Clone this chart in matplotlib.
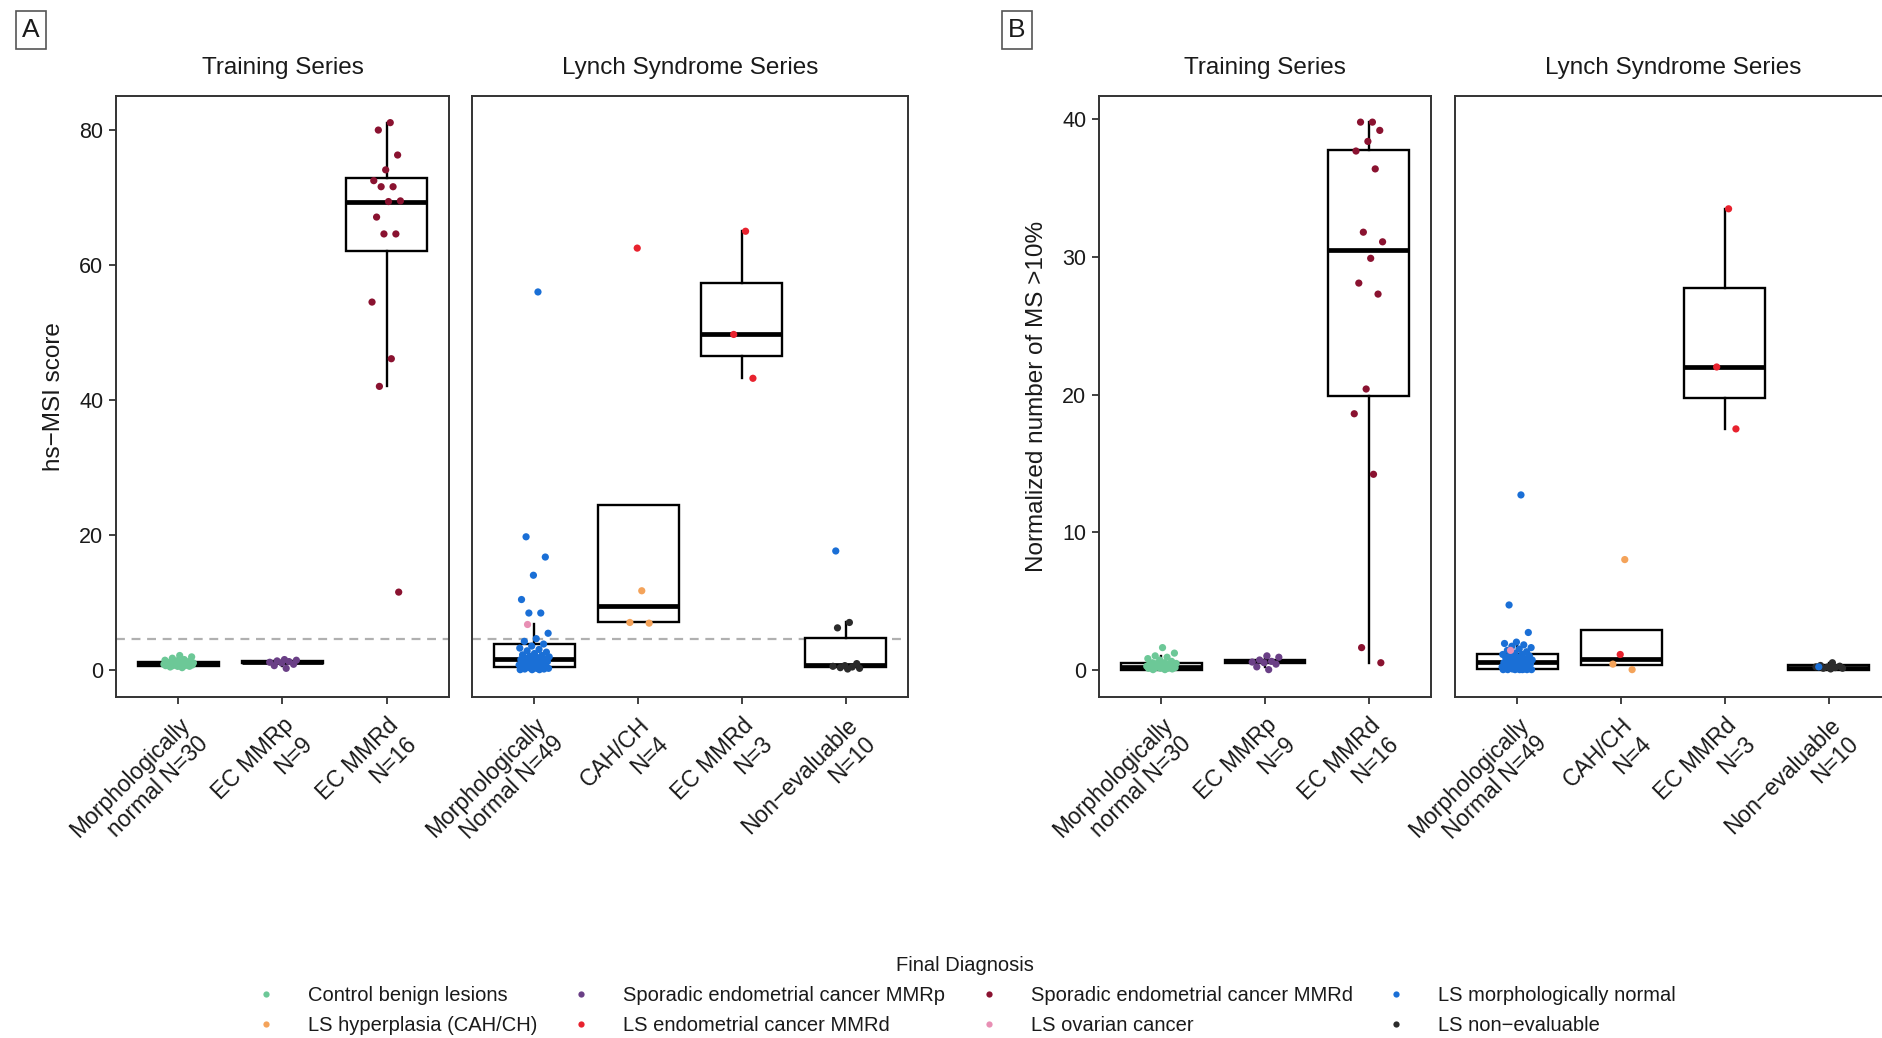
import numpy as np
import matplotlib.pyplot as plt
from matplotlib.lines import Line2D

plt.rcParams['font.family'] = ['Liberation Sans', 'DejaVu Sans']

# diagnoses and colours
dx_names = ["Control benign lesions", "Sporadic endometrial cancer MMRp",
            "Sporadic endometrial cancer MMRd", "LS morphologically normal",
            "LS hyperplasia (CAH/CH)", "LS endometrial cancer MMRd",
            "LS ovarian cancer", "LS non\u2212evaluable"]
dx_colors = ["#6cc897", "#6a3f86", "#8a1230", "#1a6fd6",
             "#f4a35a", "#e8222e", "#e88fb4", "#2b2b2b"]
CTRL, MMRP, MMRD, LSN, LSH, LSEC, LSOV, LSNE = range(8)

train_labels = ["Morphologically\nnormal N=30", "EC MMRp\nN=9", "EC MMRd\nN=16"]
lynch_labels = ["Morphologically\nNormal N=49", "CAH/CH\nN=4", "EC MMRd\nN=3",
                "Non\u2212evaluable\nN=10"]

# ---- panel A: hs-MSI score ----
msi_train_normal = [0.3, 0.4, 0.5, 0.5, 0.6, 0.6, 0.6, 0.7, 0.7, 0.7, 0.7, 0.8, 0.8, 0.8, 0.8,
                    0.9, 0.9, 0.9, 1.0, 1.0, 1.0, 1.1, 1.1, 1.2, 1.3, 1.4, 1.5, 1.7, 1.9, 2.1]
msi_train_mmrp = [0.2, 0.6, 0.8, 1.0, 1.1, 1.2, 1.3, 1.4, 1.5]
msi_train_mmrd = [81.1, 80.0, 76.3, 74.1, 72.5, 71.6, 71.6, 69.5, 69.4, 67.1, 64.6, 64.6,
                  54.5, 46.1, 42.0, 11.5]
msi_ls_normal = [56.0, 19.7, 16.7, 14.0, 10.4, 8.4, 8.4, 5.4, 4.6, 4.2, 3.8, 3.5, 3.2, 3.0,
                 2.8, 2.6, 2.4, 2.2, 2.1, 2.0, 1.9, 1.8, 1.7, 1.6, 1.6, 1.5, 1.4, 1.3, 1.2,
                 1.1, 1.0, 0.9, 0.8, 0.7, 0.6, 0.5, 0.5, 0.4, 0.4, 0.3, 0.3, 0.2, 0.2, 0.1,
                 0.1, 0.0, 0.0, 0.0]
msi_ls_normal_ov = [6.7]
msi_ls_cah = [11.7, 7.0, 6.9]
msi_ls_cah_ec = [62.5]
msi_ls_ec = [65.0, 49.7, 43.2]
msi_ls_ne = [7.0, 6.2, 0.9, 0.6, 0.5, 0.4, 0.3, 0.2, 0.1]
msi_ls_ne_normal = [17.6]

# box stats: (lower whisker, q1, median, q3, upper whisker)
msi_train_box = [(0.3, 0.55, 0.8, 1.1, 1.7), (0.6, 0.95, 1.1, 1.3, 1.5),
                 (42.0, 62.0, 69.4, 72.9, 81.1)]
msi_ls_box = [(0.0, 0.4, 1.6, 3.8, 6.8), (7.0, 7.0, 9.4, 24.4, 24.4),
              (43.2, 46.45, 49.7, 57.35, 65.0), (0.1, 0.35, 0.7, 4.7, 7.0)]

# ---- panel B: normalized number of MS > 10% ----
ms_train_normal = [0.0, 0.0, 0.05, 0.1, 0.1, 0.1, 0.15, 0.15, 0.2, 0.2, 0.2, 0.25, 0.25, 0.3,
                   0.3, 0.3, 0.35, 0.4, 0.4, 0.45, 0.45, 0.5, 0.5, 0.6, 0.7, 0.8, 0.9, 1.0,
                   1.2, 1.6]
ms_train_mmrp = [0.0, 0.2, 0.4, 0.5, 0.55, 0.6, 0.7, 0.9, 1.0]
ms_train_mmrd = [39.8, 39.8, 39.2, 38.4, 37.7, 36.4, 31.8, 31.1, 29.9, 28.1, 27.3, 20.4,
                 18.6, 14.2, 1.6, 0.5]
ms_ls_normal = [12.7, 4.7, 2.7, 2.0, 1.9, 1.8, 1.7, 1.6, 1.5, 1.4, 1.3, 1.2, 1.1, 1.1, 1.0,
                1.0, 0.9, 0.9, 0.8, 0.8, 0.7, 0.7, 0.6, 0.6, 0.55, 0.5, 0.5, 0.4, 0.4, 0.35,
                0.3, 0.3, 0.25, 0.2, 0.2, 0.15, 0.1, 0.1, 0.1, 0.05, 0.05, 0.0, 0.0, 0.0,
                0.0, 0.0, 0.0, 0.0]
ms_ls_normal_ov = [1.4]
ms_ls_cah = [8.0, 0.4, 0.0]
ms_ls_cah_ec = [1.1]
ms_ls_ec = [33.5, 22.0, 17.5]
ms_ls_ne = [0.5, 0.3, 0.25, 0.2, 0.2, 0.15, 0.1, 0.1, 0.05]
ms_ls_ne_normal = [0.2]

ms_train_box = [(0.0, 0.0, 0.2, 0.5, 1.0), (0.2, 0.5, 0.6, 0.7, 1.0),
                (0.5, 19.9, 30.5, 37.8, 39.8)]
ms_ls_box = [(0.0, 0.05, 0.55, 1.1, 2.0), (0.3, 0.3, 0.75, 2.9, 2.9),
             (17.5, 19.75, 22.0, 27.75, 33.5), (0.0, 0.0, 0.15, 0.35, 0.5)]

msi_train_pts = [[(CTRL, msi_train_normal)], [(MMRP, msi_train_mmrp)], [(MMRD, msi_train_mmrd)]]
msi_ls_pts = [[(LSN, msi_ls_normal), (LSOV, msi_ls_normal_ov)],
              [(LSH, msi_ls_cah), (LSEC, msi_ls_cah_ec)],
              [(LSEC, msi_ls_ec)],
              [(LSNE, msi_ls_ne), (LSN, msi_ls_ne_normal)]]
ms_train_pts = [[(CTRL, ms_train_normal)], [(MMRP, ms_train_mmrp)], [(MMRD, ms_train_mmrd)]]
ms_ls_pts = [[(LSN, ms_ls_normal), (LSOV, ms_ls_normal_ov)],
             [(LSH, ms_ls_cah), (LSEC, ms_ls_cah_ec)],
             [(LSEC, ms_ls_ec)],
             [(LSNE, ms_ls_ne), (LSN, ms_ls_ne_normal)]]

W, H = 1883, 1038
fig = plt.figure(figsize=(W / 100, H / 100), dpi=100)
TXT = '#1a1a1a'


def px_axes(x0, x1, y0, y1):
    return fig.add_axes([x0 / W, 1 - y1 / H, (x1 - x0) / W, (y1 - y0) / H])


def draw_panel(ax, labels, boxes, groups, ylim, yticks, title, first, hline=None):
    n = len(labels)
    stats = [dict(whislo=b[0], q1=b[1], med=b[2], q3=b[3], whishi=b[4], fliers=[])
             for b in boxes]
    ax.bxp(stats, positions=range(n), widths=0.78, showcaps=False, patch_artist=True,
           boxprops=dict(facecolor='white', edgecolor='black', linewidth=1.7),
           medianprops=dict(color='black', linewidth=3.4),
           whiskerprops=dict(color='black', linewidth=1.7), zorder=2)
    for i, grp in enumerate(groups):
        dxs = [d for d, vals in grp for _ in vals]
        vals = [v for d, vals in grp for v in vals]
        # deterministic jitter of x position
        offs = (((np.arange(len(vals)) + 1) * 0.618034) % 1 - 0.5) * 0.3
        ax.scatter(i + offs, vals, s=27, c=[dx_colors[d] for d in dxs],
                   linewidths=0, zorder=3)
    if hline is not None:
        ax.axhline(hline, color='#b0b0b0', lw=1.6, ls=(0, (4, 3)), zorder=1)
    ax.set_xlim(-0.6, n - 0.4)
    ax.set_ylim(*ylim)
    ax.set_xticks(range(n))
    ax.set_xticklabels(labels, rotation=45, ha='right', va='top', rotation_mode='anchor',
                       fontsize=16.5, color=TXT, linespacing=1.15)
    ax.set_yticks(yticks)
    ax.tick_params(axis='both', length=5, width=1.3, color='#333333', labelsize=15.5,
                   labelcolor=TXT, pad=4)
    ax.tick_params(axis='x', pad=7, labelsize=16.5)
    if not first:
        ax.tick_params(axis='y', left=False, labelleft=False)
    for s in ax.spines.values():
        s.set_color('#333333')
        s.set_linewidth(1.4)
    ax.set_title(title, fontsize=17.5, color=TXT, pad=16)


axA1 = px_axes(116, 449, 96, 697)
axA2 = px_axes(472, 908, 96, 697)
axB1 = px_axes(1099, 1431, 96, 697)
axB2 = px_axes(1455, 1891, 96, 697)

draw_panel(axA1, train_labels, msi_train_box, msi_train_pts, (-4.05, 85.05),
           [0, 20, 40, 60, 80], "Training Series", True, hline=4.5)
draw_panel(axA2, lynch_labels, msi_ls_box, msi_ls_pts, (-4.05, 85.05),
           [0, 20, 40, 60, 80], "Lynch Syndrome Series", False, hline=4.5)
draw_panel(axB1, train_labels, ms_train_box, ms_train_pts, (-1.99, 41.7),
           [0, 10, 20, 30, 40], "Training Series", True)
draw_panel(axB2, lynch_labels, ms_ls_box, ms_ls_pts, (-1.99, 41.7),
           [0, 10, 20, 30, 40], "Lynch Syndrome Series", False)

axA1.set_ylabel("hs\u2212MSI score", fontsize=17.5, color=TXT, labelpad=10)
axB1.set_ylabel("Normalized number of MS >10%", fontsize=17.5, color=TXT, labelpad=10)

for lab, x in [("A", 31), ("B", 1017)]:
    fig.text(x / W, 1 - 30 / H, lab, fontsize=19, color=TXT, ha='center', va='center',
             bbox=dict(boxstyle='square,pad=0.25', facecolor='white', edgecolor='#555555',
                       linewidth=1.2))

# legend: ggplot fills rows, matplotlib fills columns
order = [CTRL, LSH, MMRP, LSEC, MMRD, LSOV, LSN, LSNE]
handles = [Line2D([], [], ls='none', marker='o', ms=4.5, mec='none', mfc=dx_colors[k])
           for k in order]
leg = fig.legend(handles, [dx_names[k] for k in order], ncol=4, loc='upper center',
                 bbox_to_anchor=(965 / W, 1 - 938 / H), frameon=False, fontsize=14.5,
                 title="Final Diagnosis", title_fontsize=14.5, handletextpad=1.5,
                 columnspacing=1.55, labelspacing=0.55, handlelength=1.2)
for t in leg.get_texts():
    t.set_color(TXT)
leg.get_title().set_color(TXT)

fig.savefig("out.png", dpi=100)
